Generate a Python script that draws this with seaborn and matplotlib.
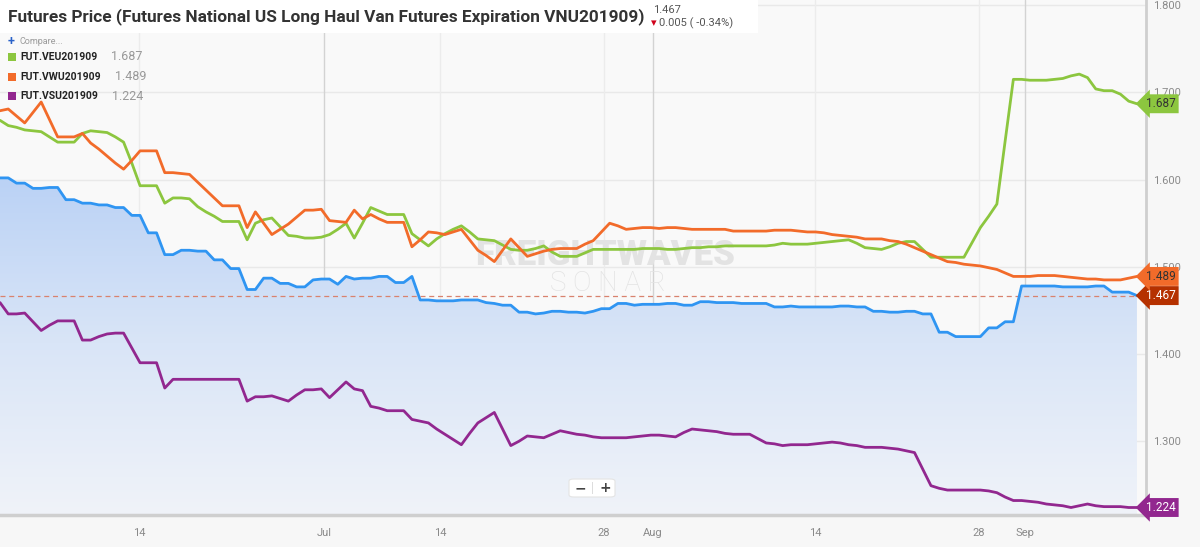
import numpy as np
import pandas as pd
import seaborn as sns
import matplotlib.pyplot as plt
from matplotlib.patches import Rectangle, FancyBboxPatch
from matplotlib.colors import LinearSegmentedColormap

# observation index (one step per reading on the chart's ordinal time axis)
blue = [
    1.602, 1.602, 1.596, 1.596, 1.590, 1.590, 1.591, 1.591, 1.577, 1.577,
    1.573, 1.573, 1.571, 1.571, 1.568, 1.568, 1.559, 1.559, 1.539, 1.539,
    1.514, 1.514, 1.519, 1.519, 1.518, 1.518, 1.508, 1.508, 1.498, 1.498,
    1.474, 1.474, 1.487, 1.487, 1.481, 1.481, 1.477, 1.477, 1.485, 1.486,
    1.486, 1.480, 1.489, 1.486, 1.487, 1.487, 1.489, 1.489, 1.482, 1.482,
    1.489, 1.462, 1.462, 1.461, 1.461, 1.461, 1.462, 1.462, 1.462, 1.459,
    1.458, 1.456, 1.456, 1.448, 1.448, 1.446, 1.447, 1.449, 1.449, 1.448,
    1.448, 1.447, 1.449, 1.452, 1.452, 1.458, 1.458, 1.456, 1.457, 1.457,
    1.457, 1.458, 1.458, 1.456, 1.456, 1.460, 1.460, 1.459, 1.459, 1.459,
    1.458, 1.458, 1.458, 1.458, 1.454, 1.454, 1.455, 1.454, 1.454, 1.454,
    1.454, 1.454, 1.455, 1.455, 1.454, 1.454, 1.449, 1.449, 1.448, 1.448,
    1.449, 1.449, 1.446, 1.446, 1.425, 1.425, 1.420, 1.420, 1.420, 1.420,
    1.430, 1.430, 1.437, 1.437, 1.478, 1.478, 1.478, 1.478, 1.478, 1.477,
    1.477, 1.477, 1.477, 1.478, 1.478, 1.471, 1.471, 1.471, 1.467,
]
veu = [
    1.668, 1.662, 1.660, 1.657, 1.656, 1.655, 1.649, 1.643, 1.643, 1.643,
    1.653, 1.656, 1.655, 1.654, 1.649, 1.643, 1.619, 1.593, 1.593, 1.593,
    1.573, 1.579, 1.579, 1.578, 1.569, 1.563, 1.558, 1.552, 1.552, 1.552,
    1.531, 1.550, 1.554, 1.556, 1.546, 1.536, 1.535, 1.533, 1.533, 1.534,
    1.537, 1.543, 1.550, 1.533, 1.550, 1.568, 1.564, 1.560, 1.560, 1.560,
    1.538, 1.531, 1.524, 1.532, 1.538, 1.543, 1.547, 1.540, 1.532, 1.531,
    1.530, 1.525, 1.520, 1.519, 1.519, 1.521, 1.524, 1.517, 1.512, 1.512,
    1.512, 1.516, 1.520, 1.520, 1.520, 1.520, 1.520, 1.520, 1.521, 1.521,
    1.521, 1.520, 1.520, 1.521, 1.522, 1.522, 1.523, 1.523, 1.524, 1.524,
    1.524, 1.524, 1.524, 1.524, 1.525, 1.527, 1.526, 1.526, 1.526, 1.527,
    1.528, 1.529, 1.530, 1.531, 1.527, 1.522, 1.521, 1.520, 1.523, 1.527,
    1.529, 1.529, 1.520, 1.511, 1.511, 1.511, 1.511, 1.511, 1.528, 1.545,
    1.558, 1.572, 1.644, 1.715, 1.715, 1.714, 1.714, 1.714, 1.715, 1.716,
    1.719, 1.721, 1.717, 1.704, 1.702, 1.702, 1.698, 1.690, 1.687,
]
vwu = [
    1.679, 1.681, 1.673, 1.665, 1.677, 1.689, 1.669, 1.649, 1.649, 1.649,
    1.653, 1.642, 1.635, 1.627, 1.619, 1.612, 1.622, 1.633, 1.633, 1.633,
    1.608, 1.608, 1.607, 1.606, 1.597, 1.588, 1.579, 1.570, 1.570, 1.570,
    1.545, 1.563, 1.550, 1.537, 1.543, 1.549, 1.557, 1.565, 1.565, 1.566,
    1.553, 1.552, 1.551, 1.565, 1.555, 1.560, 1.555, 1.551, 1.551, 1.551,
    1.523, 1.531, 1.540, 1.539, 1.537, 1.540, 1.543, 1.531, 1.519, 1.513,
    1.506, 1.519, 1.532, 1.522, 1.512, 1.515, 1.518, 1.520, 1.521, 1.521,
    1.521, 1.526, 1.530, 1.540, 1.550, 1.547, 1.543, 1.544, 1.545, 1.545,
    1.544, 1.545, 1.545, 1.544, 1.543, 1.543, 1.543, 1.543, 1.543, 1.541,
    1.541, 1.541, 1.541, 1.541, 1.542, 1.542, 1.542, 1.541, 1.540, 1.540,
    1.539, 1.537, 1.536, 1.535, 1.534, 1.532, 1.532, 1.532, 1.530, 1.529,
    1.526, 1.522, 1.518, 1.514, 1.510, 1.506, 1.505, 1.503, 1.502, 1.501,
    1.499, 1.497, 1.493, 1.489, 1.489, 1.489, 1.490, 1.490, 1.490, 1.489,
    1.488, 1.487, 1.486, 1.486, 1.485, 1.485, 1.485, 1.487, 1.489,
]
vsu = [
    1.459, 1.446, 1.446, 1.447, 1.437, 1.427, 1.433, 1.438, 1.438, 1.438,
    1.416, 1.416, 1.420, 1.423, 1.424, 1.424, 1.407, 1.390, 1.390, 1.390,
    1.361, 1.371, 1.371, 1.371, 1.371, 1.371, 1.371, 1.371, 1.371, 1.371,
    1.346, 1.351, 1.351, 1.352, 1.349, 1.346, 1.353, 1.359, 1.359, 1.360,
    1.350, 1.359, 1.368, 1.360, 1.358, 1.340, 1.338, 1.335, 1.335, 1.335,
    1.325, 1.323, 1.321, 1.314, 1.308, 1.302, 1.296, 1.309, 1.321, 1.327,
    1.333, 1.314, 1.295, 1.300, 1.306, 1.305, 1.304, 1.308, 1.312, 1.310,
    1.308, 1.307, 1.305, 1.304, 1.304, 1.304, 1.304, 1.305, 1.306, 1.307,
    1.307, 1.306, 1.305, 1.310, 1.314, 1.313, 1.312, 1.311, 1.309, 1.308,
    1.308, 1.308, 1.303, 1.298, 1.297, 1.295, 1.296, 1.296, 1.296, 1.297,
    1.298, 1.299, 1.298, 1.296, 1.295, 1.293, 1.293, 1.293, 1.292, 1.291,
    1.289, 1.287, 1.268, 1.249, 1.246, 1.244, 1.244, 1.244, 1.244, 1.244,
    1.243, 1.241, 1.236, 1.232, 1.232, 1.231, 1.230, 1.228, 1.227, 1.226,
    1.224, 1.226, 1.228, 1.226, 1.225, 1.225, 1.225, 1.224, 1.224,
]

series_names = ["VNU201909", "FUT.VEU201909", "FUT.VWU201909", "FUT.VSU201909"]
colors = ["#2f95f2", "#8cc63f", "#f26b2a", "#92278f"]
tag_colors = ["#b53100", "#8cc63f", "#f26b2a", "#92278f"]
tag_text = ["white", "#333333", "#333333", "white"]

tick_pos = [16.9, 39.3, 53.4, 73.3, 79.2, 98.9, 118.8, 124.4]
tick_labels = ["14", "Jul", "14", "28", "Aug", "14", "28", "Sep"]
month_pos = [39.3, 79.2, 124.4]

y_ticks = [1.3, 1.4, 1.5, 1.6, 1.7, 1.8]
last_price = 1.467
change_text = "0.005 ( -0.34%)"

n = len(blue)
idx = np.arange(n)
df = pd.DataFrame({
    "idx": np.tile(idx, 4),
    "price": np.concatenate([blue, veu, vwu, vsu]),
    "series": np.repeat(series_names, n),
})

sns.set_theme(style="white")
plt.rcParams["font.family"] = ["Roboto", "DejaVu Sans"]

fig = plt.figure(figsize=(12, 5.47), dpi=100, facecolor="#f7f7f7")
ax = fig.add_axes([0, 32 / 547, 1146 / 1200, 515 / 547])
ax.set_facecolor("#f9f9f9")

y_bot, y_top = 1.2154, 1.806
x_max = 139.1

# gradient area under main contract
poly = ax.fill_between(idx, blue, y_bot, color="none", lw=0)
grad = np.linspace(0, 1, 256).reshape(-1, 1)
cmap = LinearSegmentedColormap.from_list("area", ["#f0f3f9", "#d9e5f7", "#b9d1f5"])
im = ax.imshow(grad, extent=[0, n - 1, y_bot, 1.61], origin="lower",
               aspect="auto", cmap=cmap, zorder=1)
im.set_clip_path(poly.get_paths()[0], ax.transData)

sns.lineplot(data=df, x="idx", y="price", hue="series", palette=colors,
             hue_order=series_names, linewidth=2, legend=False, ax=ax, zorder=3)

ax.axhline(last_price, xmax=(n - 1) / x_max, color="#d9826e", lw=0.9,
           ls=(0, (4, 3)), zorder=2)

ax.set_xlim(0, x_max)
ax.set_ylim(y_bot, y_top)
ax.set_xlabel("")
ax.set_ylabel("")

# grid
for y in y_ticks:
    ax.axhline(y, color="#e9e9e9", lw=1, zorder=0.5)
for p in tick_pos:
    c = "#d3d3d3" if p in month_pos else "#ececec"
    ax.axvline(p, color=c, lw=1, zorder=0.5)

ax.set_xticks(tick_pos, tick_labels)
ax.set_yticks(y_ticks, [f"{v:.3f}" for v in y_ticks])
ax.yaxis.tick_right()
ax.tick_params(axis="both", length=0, colors="#8a8a8a", labelsize=8)
ax.tick_params(axis="y", pad=5)
ax.tick_params(axis="x", pad=9)
for s in ["top", "left"]:
    ax.spines[s].set_visible(False)
ax.spines["bottom"].set_color("#cfcfcf")
ax.spines["bottom"].set_linewidth(2.5)
ax.spines["right"].set_color("#cfcfcf")
ax.spines["right"].set_linewidth(2)

# last value tags
for vals, fc, tc in zip([blue, veu, vwu, vsu], tag_colors, tag_text):
    ax.annotate(f"{vals[-1]:.3f}", xy=(n - 1, vals[-1]), xytext=(9, 0),
                textcoords="offset pixels", ha="left", va="center",
                fontsize=8.5, color=tc, annotation_clip=False, zorder=6,
                bbox=dict(boxstyle="larrow,pad=0.25", fc=fc, ec="none"))

# watermark
ax.text(0.528, 0.504, "FREIGHTWAVES", transform=ax.transAxes, ha="center",
        va="center", fontsize=25, fontweight="heavy", color="#e3e3e3", zorder=2.5)
ax.text(0.53, 0.45, "S O N A R", transform=ax.transAxes, ha="center",
        va="center", fontsize=20, fontweight="light", color="#e3e3e3", zorder=2.5)

# title strip
fig.add_artist(Rectangle((0, 1 - 33 / 547), 652 / 1200, 33 / 547,
                         transform=fig.transFigure, fc="white", ec="none", zorder=5))
fig.add_artist(Rectangle((652 / 1200, 1 - 33 / 547), 106 / 1200, 33 / 547,
                         transform=fig.transFigure, fc="white", ec="none", zorder=5))
fig.text(8 / 1200, 1 - 17 / 547,
         "Futures Price (Futures National US Long Haul Van Futures Expiration VNU201909)",
         ha="left", va="center", fontsize=12.4, fontweight="bold", color="#333333",
         zorder=6)
fig.text(653 / 1200, 1 - 10 / 547, f"{last_price:.3f}", ha="left", va="center",
         fontsize=8, color="#555555", zorder=6)
fig.text(651 / 1200, 1 - 23 / 547, "\u25be", ha="left", va="center",
         fontsize=8, color="#d0021b", family=["DejaVu Sans"], zorder=6)
fig.text(659 / 1200, 1 - 23 / 547, change_text, ha="left", va="center",
         fontsize=8, color="#555555", zorder=6)

# compare / legend block
fig.text(8 / 1200, 1 - 42 / 547, "+", ha="left", va="center", fontsize=9,
         fontweight="bold", color="#2a62c9", zorder=6)
fig.text(19 / 1200, 1 - 42 / 547, "Compare...", ha="left", va="center",
         fontsize=6.5, color="#9a9a9a", zorder=6)
legend_vals = [veu[-1], vwu[-1], vsu[-1]]
val_x = [111, 115, 112]
for i, (name, c, v) in enumerate(zip(series_names[1:], colors[1:], legend_vals)):
    yy = 1 - (57 + 19.5 * i) / 547
    fig.add_artist(Rectangle((8 / 1200, yy - 4 / 547), 8 / 1200, 8 / 547,
                             transform=fig.transFigure, fc=c, ec="none", zorder=6))
    fig.text(20 / 1200, yy, name, ha="left", va="center", fontsize=7.5,
             fontweight="bold", color="#222222", zorder=6)
    fig.text(val_x[i] / 1200, yy, f"{v:.3f}", ha="left", va="center",
             fontsize=9, color="#999999", zorder=6)

# zoom control
fig.add_artist(FancyBboxPatch((569 / 1200, 1 - 497 / 547), 46 / 1200, 18 / 547,
                              boxstyle="round,pad=0,rounding_size=0.004",
                              transform=fig.transFigure, fc="white", ec="#e4e4e4",
                              lw=0.8, zorder=6))
fig.text(580 / 1200, 1 - 488 / 547, "\u2212", ha="center", va="center",
         fontsize=10, fontweight="bold", color="#444444", family=["DejaVu Sans"], zorder=7)
fig.text(605 / 1200, 1 - 488 / 547, "+", ha="center", va="center",
         fontsize=10, fontweight="bold", color="#444444", family=["DejaVu Sans"], zorder=7)
fig.add_artist(Rectangle((592 / 1200, 1 - 494 / 547), 1 / 1200, 12 / 547,
                         transform=fig.transFigure, fc="#dddddd", ec="none", zorder=7))

fig.savefig("out.png", dpi=100, facecolor=fig.get_facecolor())
